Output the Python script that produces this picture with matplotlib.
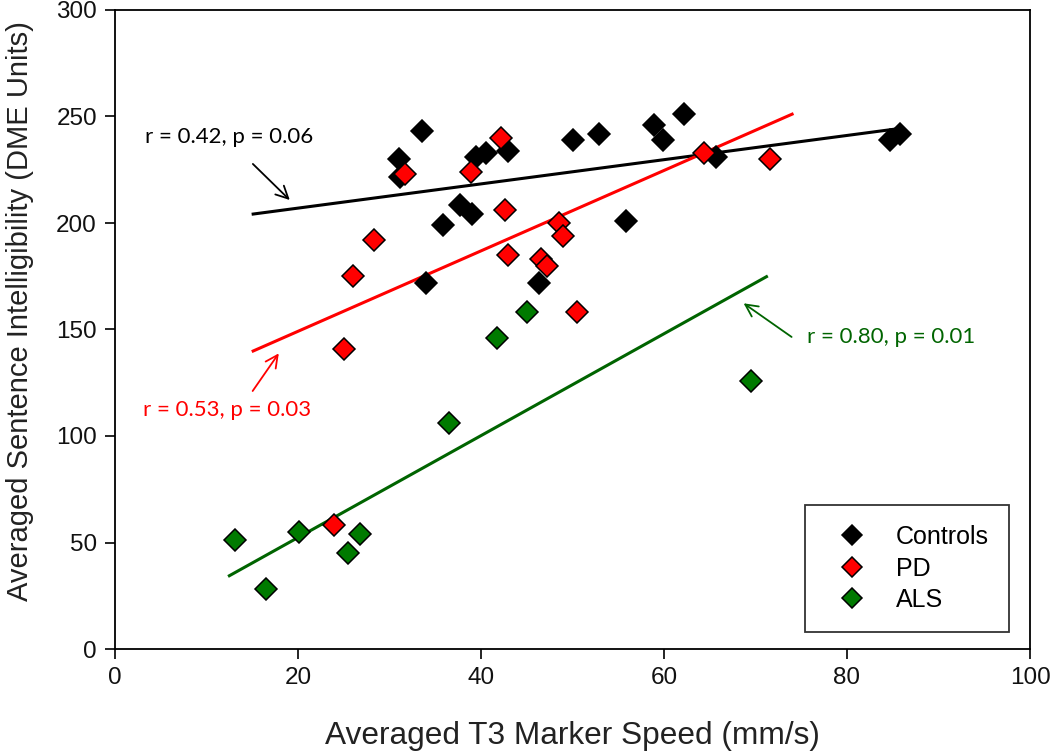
import matplotlib
matplotlib.use("Agg")
import matplotlib.pyplot as plt

# ---- data ----
ctrl_x = [33.6, 31.0, 31.2, 39.5, 40.6, 43.0, 37.7, 39.0, 35.8, 34.0, 46.3,
          50.0, 52.9, 58.9, 62.2, 59.9, 65.7, 55.8, 84.7, 85.8]
ctrl_y = [243, 230, 221.5, 231, 233, 234, 208.5, 204, 199, 172, 172,
          239, 242, 246, 251, 239, 231, 201, 239, 242]

pd_x = [42.2, 31.7, 38.9, 42.6, 28.3, 26.0, 42.9, 46.6, 47.2, 25.0,
        50.5, 48.5, 49.0, 64.4, 71.6, 23.9]
pd_y = [240, 223, 224, 206, 192, 175, 185, 183, 180, 141,
        158, 200, 194, 233, 230, 58]

als_x = [45.0, 41.7, 36.5, 13.1, 20.1, 26.8, 25.5, 16.5, 69.5]
als_y = [158, 146, 106, 51, 55, 54, 45, 28, 126]

# regression line endpoints
ctrl_fit_x = [15.1, 85.8]
ctrl_fit_y = [204.2, 244.4]
pd_fit_x = [15.1, 74.0]
pd_fit_y = [139.9, 251.1]
als_fit_x = [12.5, 71.2]
als_fit_y = [34.4, 174.8]

labels = ["Controls", "PD", "ALS"]
x_ticks = [0, 20, 40, 60, 80, 100]
y_ticks = [0, 50, 100, 150, 200, 250, 300]

BLACK = "#000000"
RED = "#FF0000"
GREEN = "#007A00"
DKGREEN = "#006400"

fig = plt.figure(figsize=(10.5, 7.56), dpi=100)
ax = fig.add_axes([115/1050, 107/756, 915/1050, 639/756])

ax.plot(ctrl_fit_x, ctrl_fit_y, color=BLACK, lw=2.2, zorder=2)
ax.plot(pd_fit_x, pd_fit_y, color=RED, lw=2.2, zorder=2)
ax.plot(als_fit_x, als_fit_y, color=DKGREEN, lw=2.2, zorder=2)

mk = dict(marker="D", ms=10.8, mec="black", mew=1.1, ls="none", zorder=3)
ax.plot(ctrl_x, ctrl_y, mfc=BLACK, label=labels[0], **mk)
ax.plot(pd_x, pd_y, mfc=RED, label=labels[1], **mk)
ax.plot(als_x, als_y, mfc=GREEN, label=labels[2], **mk)

ax.set_xlim(0, 100)
ax.set_ylim(0, 300)
ax.set_xticks(x_ticks)
ax.set_yticks(y_ticks)
ax.tick_params(direction="out", length=7, width=1.2, labelsize=17.5, pad=6,
               labelcolor="#111111")
for s in ax.spines.values():
    s.set_linewidth(1.3)

tick_font = "Liberation Sans"
for t in ax.get_xticklabels() + ax.get_yticklabels():
    t.set_fontfamily(tick_font)

ax.set_xlabel("Averaged T3 Marker Speed (mm/s)", fontsize=22.8,
              fontfamily=tick_font, labelpad=23, color="#222222")
ax.set_ylabel("Averaged Sentence Intelligibility (DME Units)", fontsize=21,
              fontfamily=tick_font, labelpad=16, color="#222222")
ax.yaxis.label.set_y(0.529)

ann_font = ["Lato", "DejaVu Sans"]
ann_size = 16
ax.annotate("r = 0.42, p = 0.06", xy=(19.1, 210.8), xytext=(3.3, 240.4),
            fontsize=ann_size, family=ann_font, color=BLACK, va="center", ha="left",
            arrowprops=dict(arrowstyle="->", color=BLACK, lw=1.3,
                            mutation_scale=22, shrinkA=0, shrinkB=0,
                            relpos=(0.64, -0.85)))
ax.annotate("r = 0.53, p = 0.03", xy=(17.9, 138.8), xytext=(3.1, 112.2),
            fontsize=ann_size, family=ann_font, color=RED, va="center", ha="left",
            arrowprops=dict(arrowstyle="->", color=RED, lw=1.3,
                            mutation_scale=22, shrinkA=0, shrinkB=0,
                            relpos=(0.65, 1.45)))
ax.annotate("r = 0.80, p = 0.01", xy=(68.7, 162.3), xytext=(75.6, 146.5),
            fontsize=ann_size, family=ann_font, color=DKGREEN, va="center", ha="left",
            arrowprops=dict(arrowstyle="->", color=DKGREEN, lw=1.3,
                            mutation_scale=22, shrinkA=0, shrinkB=0,
                            relpos=(-0.09, 0.5)))

leg = ax.legend(loc="lower right", bbox_to_anchor=(1009/1050, 124/756),
                bbox_transform=fig.transFigure, frameon=True, fancybox=False,
                prop={"family": tick_font, "size": 18}, handletextpad=0.68,
                borderpad=0.8, labelspacing=0.3, borderaxespad=0,
                handlelength=2.16, markerscale=0.95)
leg.get_frame().set_edgecolor("black")
leg.get_frame().set_linewidth(1.3)

fig.savefig("out.png", dpi=100)
